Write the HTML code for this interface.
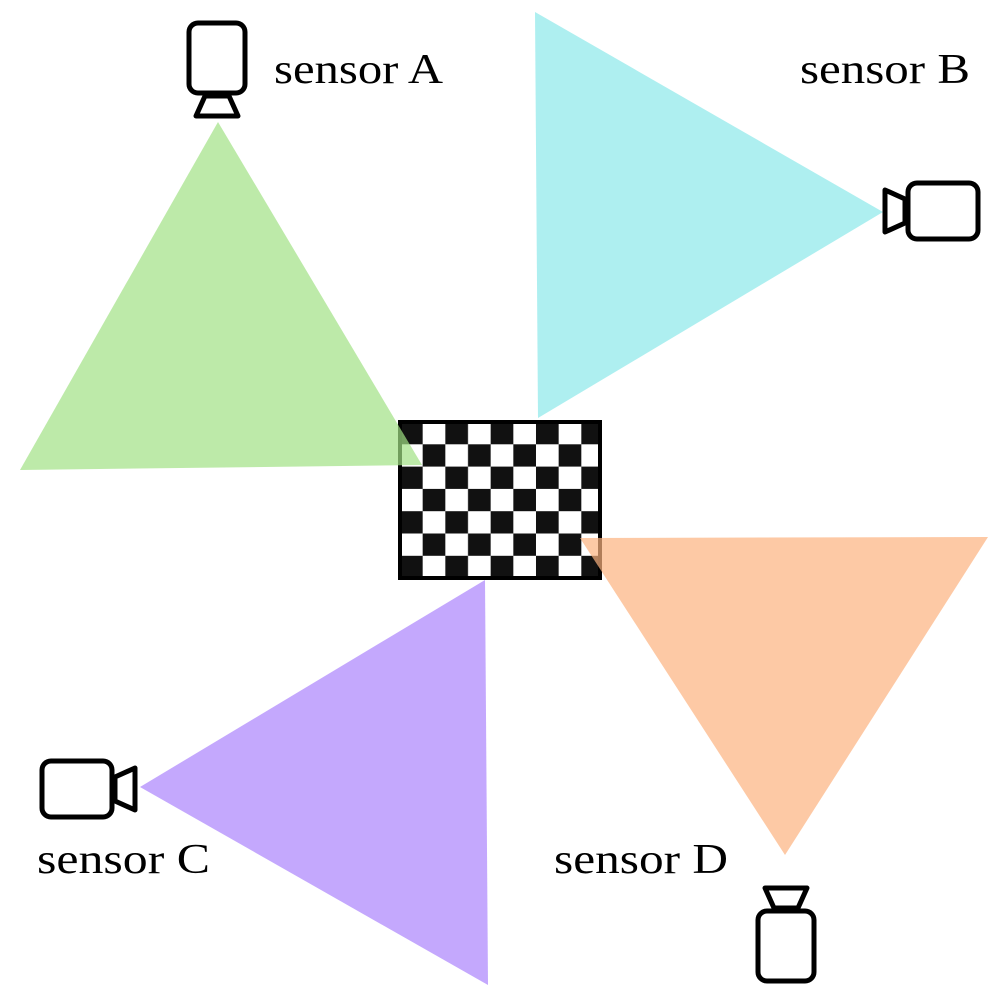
<!DOCTYPE html>
<html><head><style>html,body{margin:0;padding:0;background:#fff}svg{display:block}</style></head>
<body>
<svg width="1000" height="1000" viewBox="0 0 1000 1000" xmlns="http://www.w3.org/2000/svg">
<defs>
<pattern id="chk" x="400" y="422" width="45.33" height="44.6" patternUnits="userSpaceOnUse">
<rect width="45.33" height="44.6" fill="#fff"/>
<rect width="22.67" height="22.3" fill="#111"/>
<rect x="22.67" y="22.3" width="22.67" height="22.3" fill="#111"/>
</pattern>
<g id="cam">
<rect x="-28" y="-35" width="56" height="70" rx="9" fill="#fff" stroke="#000" stroke-width="5"/>
<path d="M-12 38 L12 38 L21 58 L-21 58 Z" fill="#fff" stroke="#000" stroke-width="5" stroke-linejoin="round"/>
</g>
</defs>
<rect x="400" y="422" width="200" height="156" fill="url(#chk)" stroke="#000" stroke-width="4"/>
<polygon points="218,122 20,470 422,465" fill="rgb(161,225,132)" opacity="0.7"/>
<polygon points="535,12 883,212 538,418" fill="rgb(140,232,234)" opacity="0.7"/>
<polygon points="580,538 988,537 785,855" fill="rgb(252,178,127)" opacity="0.7"/>
<polygon points="485,580 140,787 488,985" fill="rgb(171,131,252)" opacity="0.7"/>
<use href="#cam" transform="translate(217,58)"/>
<use href="#cam" transform="translate(943,211) rotate(90)"/>
<use href="#cam" transform="translate(77,789) rotate(-90)"/>
<use href="#cam" transform="translate(786,946) rotate(180)"/>
<g font-family="Liberation Serif, serif" font-size="42" fill="#000">
<text x="274" y="83" textLength="169" lengthAdjust="spacingAndGlyphs">sensor A</text>
<text x="800" y="83" textLength="170" lengthAdjust="spacingAndGlyphs">sensor B</text>
<text x="37" y="873" textLength="173" lengthAdjust="spacingAndGlyphs">sensor C</text>
<text x="554" y="873" textLength="174" lengthAdjust="spacingAndGlyphs">sensor D</text>
</g>
</svg>
</body></html>
